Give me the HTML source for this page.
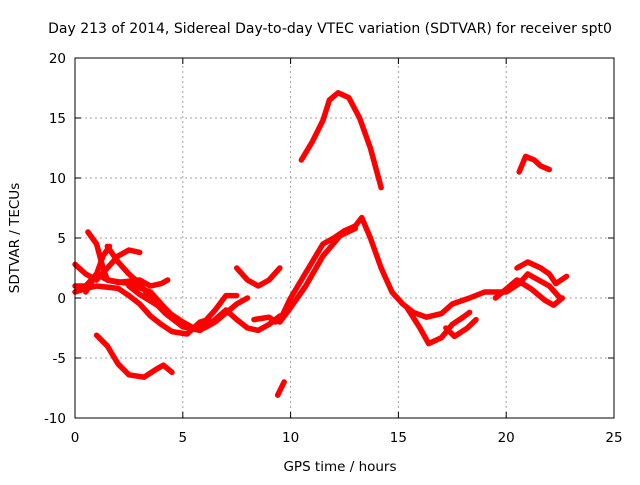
<!DOCTYPE html>
<html><head><meta charset="utf-8"><style>
body{margin:0;background:#fff}
svg text{font-family:"DejaVu Sans","Liberation Sans",sans-serif;font-size:13.5px;fill:#000}
</style></head><body>
<svg id="chart" width="640" height="480" xmlns="http://www.w3.org/2000/svg">
<rect width="640" height="480" fill="#fff"/>
<text x="330" y="33" text-anchor="middle" style="font-size:14px">Day 213 of 2014, Sidereal Day-to-day VTEC variation (SDTVAR) for receiver spt0</text>
<text x="340" y="471" text-anchor="middle">GPS time / hours</text>
<text transform="translate(19,238) rotate(-90)" text-anchor="middle">SDTVAR / TECUs</text>
<g id="grid"></g>
<g id="ticks"></g>
<g id="series"></g>
<rect x="75" y="58" width="539" height="360" fill="none" stroke="#000" stroke-width="1"/>
</svg>
<script>
const xTicks=[0,5,10,15,20,25];
const yTicks=[-10,-5,0,5,10,15,20];
const s1=[[10.5,11.5],[11,13],[11.5,14.8],[11.8,16.5],[12.2,17.1],[12.7,16.7],[13.2,15],[13.7,12.5],[14.2,9.2]];
const s2=[[20.6,10.5],[20.9,11.8],[21.3,11.5],[21.6,11],[22,10.7]];
const s3=[[1,-3.1],[1.5,-4],[2,-5.5],[2.5,-6.4],[3.2,-6.6],[3.8,-5.9],[4.1,-5.6],[4.5,-6.2]];
const s4=[[9.4,-8.1],[9.7,-7]];
const s5=[[9.6,-1.5],[10,0],[10.5,1.5],[11,3],[11.5,4.5],[12,5],[12.5,5.6],[13,6],[13.3,6.7],[13.7,5],[14.2,2.5],[14.7,0.5],[15.2,-0.5],[15.7,-1.2],[16.3,-1.6],[17,-1.3],[17.5,-0.5],[18.3,0],[19,0.5],[20,0.5],[20.6,1.2],[21,2],[21.5,1.5],[22,1],[22.5,0]];
const s6=[[9.5,-2],[10,-0.8],[10.7,1],[11.5,3.5],[12.3,5.2],[13,5.8]];
const s7=[[15.4,-0.8],[16,-2.5],[16.4,-3.8],[17,-3.3],[17.5,-2.2],[18,-1.6],[18.3,-1.2]];
const s7b=[[17.2,-2.5],[17.6,-3.2],[18.2,-2.5],[18.6,-1.8]];
const s8=[[20.5,2.5],[21,3],[21.6,2.5],[22,2],[22.3,1.2],[22.8,1.8]];
const s9=[[19.5,0],[20.5,1.5],[21.2,0.7],[21.8,-0.2],[22.2,-0.6],[22.6,0]];
const s10=[[0.6,5.5],[1,4.5],[1.3,2.5],[1.5,1.5],[2.5,1.2],[3.5,0.5],[4,-0.5],[4.8,-2],[5.5,-2.5],[6,-2],[6.5,-1],[7,0.2],[7.5,0.2]];
const s11=[[1.5,4.3],[2,3],[2.5,2],[3,1.2],[3.5,0],[4.2,-1.3],[5,-2.4],[5.8,-2.7],[6.5,-1.8],[7,-1],[7.5,-1.8],[8,-2.5],[8.5,-2.7],[9,-2.2],[9.5,-1.5]];
const s12=[[0,2.8],[0.5,2],[1,1.5],[1.5,2.5],[2,3.5],[2.5,4],[3,3.8]];
const s13=[[0,1],[0.5,1],[1,2],[1.5,1.5],[2,1.3],[3,1.5],[3.5,1],[4,1.2],[4.3,1.5]];
const s14=[[0,0.5],[0.5,0.8],[1,1],[2,0.8],[2.5,0.2],[3,-0.5],[3.5,-1.5],[4,-2.2],[4.5,-2.8],[5.2,-3],[5.8,-2],[6.2,-1.8]];
const s15=[[2.5,1],[3,0.3],[4,-0.8],[5,-2],[5.5,-2.5],[6,-2.5],[6.5,-2],[7.5,-0.5],[8,0]];
const s16=[[7.5,2.5],[8,1.5],[8.5,1],[9,1.5],[9.5,2.5]];
const s17=[[8.3,-1.8],[9,-1.6],[9.3,-2]];
const s18=[[0.5,0.5],[1,2],[1.3,3.5],[1.6,4.3]];
const allSeries=[s1,s2,s3,s4,s5,s6,s7,s7b,s8,s9,s10,s11,s12,s13,s14,s15,s16,s17,s18];
const X0=75,X1=614,Y0=418,Y1=58;
const xs=v=>X0+(v-0)/(25-0)*(X1-X0);
const ys=v=>Y0-(v+10)/(30)*(Y0-Y1);
const NS="http://www.w3.org/2000/svg";
const grid=document.getElementById('grid'),ticks=document.getElementById('ticks'),ser=document.getElementById('series');
function mk(t,a,p){const e=document.createElementNS(NS,t);for(const k in a)e.setAttribute(k,a[k]);p.appendChild(e);return e;}
xTicks.forEach(t=>{const x=xs(t);
 if(t>0&&t<25){const l=mk('line',{x1:x,x2:x,y1:Y0,y2:Y1,stroke:'#a0a0a0','stroke-dasharray':'2,3'},grid);
 
 }
 mk('line',{x1:x,x2:x,y1:Y0,y2:Y0-6,stroke:'#000'},ticks);mk('line',{x1:x,x2:x,y1:Y1,y2:Y1+6,stroke:'#000'},ticks);
 const tx=mk('text',{x:x,y:Y0+24,'text-anchor':'middle'},ticks);tx.textContent=t;
 
 });
yTicks.forEach(t=>{const y=ys(t);
 if(t>-10&&t<20){const l=mk('line',{x1:X0,x2:X1,y1:y,y2:y,stroke:'#a0a0a0','stroke-dasharray':'2,3'},grid);
 
 }
 mk('line',{x1:X0,x2:X0+6,y1:y,y2:y,stroke:'#000'},ticks);mk('line',{x1:X1,x2:X1-6,y1:y,y2:y,stroke:'#000'},ticks);
 const tx=mk('text',{x:X0-9,y:y+5,'text-anchor':'end'},ticks);tx.textContent=t;
 
 });
allSeries.forEach((s,i)=>{const p=mk('polyline',{points:s.map(d=>xs(d[0])+','+ys(d[1])).join(' '),fill:'none',stroke:'#ff0000','stroke-width':5.5,'stroke-linejoin':'round','stroke-linecap':'round'},ser);
 
 });
</script>
</body></html>
